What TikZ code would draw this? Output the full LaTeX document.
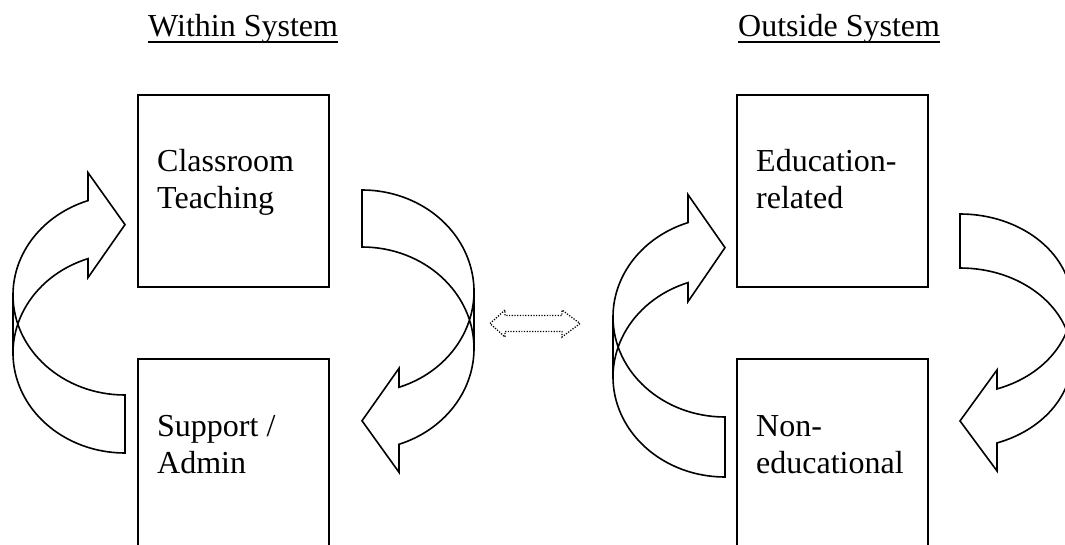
\documentclass[tikz,border=0pt]{standalone}
\usepackage{fontspec}
\setmainfont{Liberation Serif}
\begin{document}
\begin{tikzpicture}[x=1pt,y=-1pt,
  box/.style={draw, line width=2pt, rectangle, inner sep=0pt, anchor=north west,
    minimum width=191pt},
  lbl/.style={inner sep=0pt, anchor=base west, font=\fontsize{32}{37}\selectfont},
  bandline/.style={line width=1.6pt, line join=miter},
  linkline/.style={line width=1.3pt, dash pattern=on 1.2pt off 1.5pt},
  % curved band arrow: #1 = vertical radius, #2 = band thickness
  pics/curvedband/.style 2 args={code={
    \pgfmathsetmacro\hy{#1*sin(250.7)}
    \draw[bandline] (0,#1)
      arc[start angle=90, end angle=250.7, x radius=112, y radius=#1]
      -- (-37,\hy-28) -- (0,\hy+#2/2-5) -- (-37,\hy+#2+19) -- (-37,\hy+#2)
      arc[start angle=250.7, end angle=90, x radius=112, y radius=#1]
      -- cycle;
    \draw[bandline] (-112,0) -- (-112,#2);
  }}
]
\useasboundingbox (0,0) rectangle (1065,545);
\clip (0,0) rectangle (1065,545);

% headings
\node[lbl] (hwithin) at (148,37) {Within System};
\node[lbl] (houtside) at (738,37) {Outside System};
\draw[line width=2pt] ([yshift=-5pt]hwithin.base west) -- ([yshift=-5pt]hwithin.base east);
\draw[line width=2pt] ([yshift=-5pt]houtside.base west) -- ([yshift=-5pt]houtside.base east);

% boxes
\node[box, minimum height=192pt] (teach) at (137,94) {};
\node[box, minimum height=220pt] (admin) at (137,358) {};
\node[box, minimum height=192pt] (edu) at (736,94) {};
\node[box, minimum height=220pt] (nonedu) at (736,358) {};

% box texts
\node[lbl] (teachA) at (157,172) {Classroom};
\node[lbl] (teachB) at (157,209) {Teaching};
\node[lbl] (adminA) at (157,436) {Support /};
\node[lbl] (adminB) at (157,473) {Admin};
\node[lbl] (eduA) at (756,172) {Education-};
\node[lbl] (eduB) at (756,209) {related};
\node[lbl] (nonA) at (756,436) {Non-};
\node[lbl] (nonB) at (756,473) {educational};

% circulating arrows
\pic at (125,295) {curvedband={100}{58}};
\pic[rotate=180] at (362,348.5) {curvedband={101.5}{57}};
\pic at (725,317) {curvedband={100}{60}};
\pic[rotate=180] at (960,358) {curvedband={90}{54}};

% dotted two-way arrow between the systems
\draw[linkline] (490,323.5) -- (505,310) -- (505,315.5) -- (562,315.5) -- (562,310)
  -- (580,323.5) -- (562,337) -- (562,331.5) -- (505,331.5) -- (505,337) -- cycle;
\end{tikzpicture}
\end{document}
